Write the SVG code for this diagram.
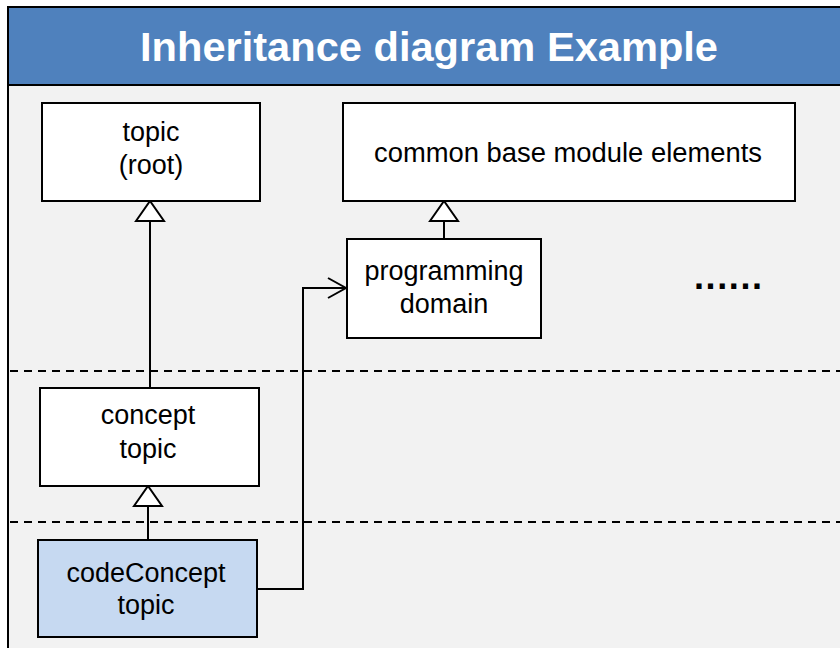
<svg xmlns="http://www.w3.org/2000/svg" width="840" height="648" viewBox="0 0 840 648">
<style>
.node{fill:#ffffff;stroke:#000000;stroke-width:2}
.sel{fill:#c6d9f1}
.lbl{font-family:"Liberation Sans",Arial,sans-serif;font-size:27px;fill:#000000;text-anchor:middle}
.conn{fill:none;stroke:#000000;stroke-width:2}
.dash{stroke:#000000;stroke-width:2;stroke-dasharray:8 6}
</style>
<defs>
<marker id="gen" viewBox="-2 -2 24 32" refX="20" refY="14" markerWidth="24" markerHeight="32" markerUnits="userSpaceOnUse" orient="auto">
<path d="M0,0 L20,14 L0,28 Z" fill="#ffffff" stroke="#000000" stroke-width="2"/>
</marker>
<marker id="open" viewBox="-2 -2 22 24" refX="18" refY="10" markerWidth="22" markerHeight="24" markerUnits="userSpaceOnUse" orient="auto">
<path d="M0,0 L18,10 L0,20" fill="none" stroke="#000000" stroke-width="2"/>
</marker>
</defs>
<rect x="0" y="0" width="840" height="648" fill="#ffffff"/>
<g id="frame">
<rect x="8" y="85" width="832" height="563" fill="#f2f2f2"/>
<rect x="8" y="7" width="832" height="78" fill="#4f81bd"/>
<line x1="7" y1="7" x2="840" y2="7" stroke="#000" stroke-width="2"/>
<line x1="7" y1="85" x2="840" y2="85" stroke="#000" stroke-width="2"/>
<line x1="8" y1="6" x2="8" y2="648" stroke="#000" stroke-width="2"/>
<text x="429" y="61" font-family="'Liberation Sans',Arial,sans-serif" font-size="40" font-weight="bold" fill="#ffffff" text-anchor="middle" textLength="578" lengthAdjust="spacingAndGlyphs">Inheritance diagram Example</text>
</g>
<g id="separators">
<line class="dash" x1="10" y1="371" x2="840" y2="371"/>
<line class="dash" x1="10" y1="522" x2="840" y2="522"/>
</g>
<g id="connectors">
<line class="conn" x1="150" y1="388" x2="150" y2="201" marker-end="url(#gen)"/>
<line class="conn" x1="148" y1="540" x2="148" y2="486" marker-end="url(#gen)"/>
<line class="conn" x1="444" y1="239" x2="444" y2="201" marker-end="url(#gen)"/>
<polyline class="conn" points="257,589 303,589 303,288 346,288" marker-end="url(#open)"/>
</g>
<g id="node-topic">
<rect class="node" x="42" y="103" width="218" height="98"/>
<text class="lbl" x="151" y="141">topic</text>
<text class="lbl" x="151" y="174">(root)</text>
</g>
<g id="node-common">
<rect class="node" x="343" y="103" width="452" height="98"/>
<text class="lbl" x="568" y="162" textLength="388" lengthAdjust="spacingAndGlyphs">common base module elements</text>
</g>
<g id="node-programming">
<rect class="node" x="347" y="239" width="194" height="99"/>
<text class="lbl" x="444" y="280">programming</text>
<text class="lbl" x="444" y="313">domain</text>
</g>
<g id="node-concept">
<rect class="node" x="40" y="388" width="219" height="98"/>
<text class="lbl" x="148" y="424">concept</text>
<text class="lbl" x="148" y="458">topic</text>
</g>
<g id="node-codeconcept">
<rect class="node sel" x="38" y="540" width="219" height="97"/>
<text class="lbl" x="146" y="582">codeConcept</text>
<text class="lbl" x="146" y="614">topic</text>
</g>
<g id="ellipsis">
<text x="728" y="289" font-family="'Liberation Sans',Arial,sans-serif" font-size="36" font-weight="bold" fill="#000" text-anchor="middle" textLength="68" lengthAdjust="spacing">......</text>
</g>
</svg>
